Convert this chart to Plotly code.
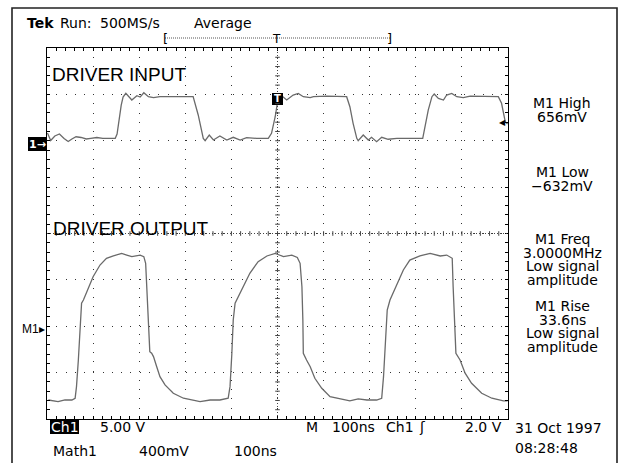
import plotly.graph_objects as go

# Channel 1 (DRIVER INPUT): time relative to trigger [ns], volts
ch1_t = [-499, -492, -483, -473, -463, -454, -446, -437, -426, -415, -405, -392, -379, -363, -352,
         -348, -344, -339, -335, -329, -316, -305, -298, -290, -280, -269, -255, -240, -227, -194,
         -183, -172, -161, -157, -148, -139, -125, -110, -96, -81, -67, -45, -20,
         -13, -5, 2, 5, 20, 34, 45, 56, 71, 78, 107, 143, 150,
         157, 164, 172, 175, 186, 197, 204, 215, 226, 240, 259, 287, 315,
         320, 327, 335, 340, 349, 360, 367, 378, 389, 403, 418, 454, 479,
         486, 491, 494, 499]
ch1_v = [1.19, 0.38, 0.86, 1.08, 0.59, 0.27, 0.54, 0.78, 0.70, 0.54, 0.61, 0.70, 0.61, 0.61, 0.61,
         1.08, 2.59, 4.20, 5.06, 5.46, 4.74, 5.20, 5.06, 5.53, 5.10, 4.99, 5.10, 5.10, 5.17, 5.17,
         5.10, 3.13, 0.61, 0.36, 0.97, 0.43, 0.86, 0.43, 0.72, 0.43, 0.68, 0.61, 0.61,
         1.15, 2.94, 5.10, 5.36, 4.74, 5.28, 5.46, 5.10, 4.99, 5.10, 5.17, 5.17, 5.10,
         4.02, 2.23, 0.61, 0.36, 0.97, 0.43, 0.72, 0.25, 0.72, 0.51, 0.61, 0.61, 0.61,
         1.86, 3.66, 5.10, 5.39, 4.92, 4.74, 5.28, 5.46, 5.10, 4.99, 5.17, 5.17, 5.10,
         4.39, 2.94, 2.40, 2.16]

# Math 1 (DRIVER OUTPUT): time [ns], millivolts
m1_t = [-497, -486, -476, -461, -446, -439, -436, -432, -428, -425, -421, -410, -400, -385, -371,
        -356, -338, -327, -316, -298, -290, -286, -282, -279, -277, -273, -269, -262, -255, -244,
        -226, -204, -183, -168, -146, -125, -107, -103, -99, -96, -92, -85, -74, -60, -42,
        -23, -5, 13, 31, 43, 49, 53, 55, 56, 63, 71, 81, 96, 114, 136,
        157, 175, 194, 215, 226, 230, 235, 238, 244, 259, 273, 287, 309, 331, 353,
        367, 379, 381, 384, 387, 396, 407, 421, 443, 465, 490, 499]
m1_mv = [-621, -629, -635, -621, -621, -606, -506, -276, -17, 213, 241, 342, 442, 543, 601,
         621, 644, 629, 615, 629, 615, 558, 213, -75, -204, -218, -247, -334, -420, -491,
         -563, -606, -621, -635, -621, -621, -606, -506, -218, 69, 213, 270, 371, 472, 572,
         621, 644, 615, 629, 609, 558, 356, 69, -218, -276, -334, -434, -520, -592, -612,
         -629, -612, -621, -621, -606, -420, -75, 155, 241, 371, 500, 586, 621, 644, 621,
         629, 601, 356, 11, -218, -276, -390, -477, -563, -606, -629, -629]

status_words = ["Run:", "500MS/s", "Average"]
readout_lines = ["M1 High", "656mV", "M1 Low", "\u2212632mV",
                 "M1 Freq", "3.0000MHz", "Low signal", "amplitude",
                 "M1 Rise", "33.6ns", "Low signal", "amplitude"]
bottom_row1 = ["5.00 V", "M", "100ns", "Ch1", "\u0283"]
bottom_row2 = ["Math1", "400mV", "100ns"]
date_lines = ["31 Oct 1997", "08:28:48"]

# ---------------- geometry ----------------
W, H = 618, 463
L, R, T, B = 47, 110, 48, 44
PW, PH = W - L - R, H - T - B


def px(x):
    return (x - L) / PW


def py(y):
    return (H - B - y) / PH


FONT = "DejaVu Sans"
ARIAL = "Liberation Sans"
TRACE = "#6a6a6a"

fig = go.Figure()
fig.add_trace(go.Scatter(x=ch1_t, y=ch1_v, mode="lines", yaxis="y2",
                         line=dict(color=TRACE, width=1.3), hoverinfo="skip", showlegend=False))
fig.add_trace(go.Scatter(x=m1_t, y=m1_mv, mode="lines", yaxis="y3",
                         line=dict(color=TRACE, width=1.3), hoverinfo="skip", showlegend=False))

common = dict(showticklabels=False, zeroline=False, showline=True, linecolor="black",
              linewidth=1, mirror="allticks", ticks="inside", ticklen=3, tickcolor="black",
              showgrid=True, gridcolor="#333333", gridwidth=1)

fig.update_layout(
    width=W, height=H, margin=dict(l=L, r=R, t=T, b=B),
    paper_bgcolor="white", plot_bgcolor="white", showlegend=False,
    xaxis=dict(range=[-500, 500], tick0=0, dtick=100, griddash="1px,8.22px",
               minor=dict(ticks="inside", dtick=20, ticklen=3, tickcolor="black", showgrid=False),
               **common),
    yaxis=dict(range=[-4, 4], tick0=0, dtick=1, griddash="1px,8.275px",
               minor=dict(ticks="inside", dtick=0.2, ticklen=3, tickcolor="black", showgrid=False),
               **common),
    yaxis2=dict(overlaying="y", range=[-29.65, 10.35], visible=False),
    yaxis3=dict(overlaying="y", range=[-785, 2415], visible=False),
)

shapes = [
    # centre lines
    dict(type="line", xref="x", yref="paper", x0=0, x1=0, y0=0, y1=1,
         line=dict(color="#444", width=1, dash="1px,2px")),
    dict(type="line", xref="paper", yref="y", x0=0, x1=1, y0=0, y1=0,
         line=dict(color="#444", width=1, dash="1px,2px")),
    # outer screen frame
    dict(type="rect", xref="paper", yref="paper", x0=px(12), x1=px(617), y0=py(480), y1=py(8),
         line=dict(color="#222", width=1.6)),
    # record view bar
    dict(type="line", xref="paper", yref="paper", x0=px(165), x1=px(391), y0=py(38), y1=py(38),
         line=dict(color="#555", width=1, dash="1px,1px")),
    # Ch1 ground marker box
    dict(type="rect", xref="paper", yref="paper", x0=px(28), x1=px(46), y0=py(151), y1=py(137),
         fillcolor="black", line=dict(width=0)),
    # trigger box on trace
    dict(type="rect", xref="paper", yref="paper", x0=px(272), x1=px(283), y0=py(105), y1=py(93),
         fillcolor="black", line=dict(width=0)),
    # Ch1 inverse box at bottom
    dict(type="rect", xref="paper", yref="paper", x0=px(50), x1=px(79), y0=py(434), y1=py(420),
         fillcolor="black", line=dict(width=0)),
]
# small cross ticks along the centre graticule lines (every 1/5 division)
for k in range(-24, 25):
    shapes.append(dict(type="line", xref="x", yref="y", x0=k * 20, x1=k * 20, y0=-0.05, y1=0.05,
                       line=dict(color="#444", width=1)))
for k in range(-19, 20):
    shapes.append(dict(type="line", xref="x", yref="y", x0=-5, x1=5, y0=k * 0.2, y1=k * 0.2,
                       line=dict(color="#444", width=1)))
fig.update_layout(shapes=shapes)


def ann(text, x, y, size=14, family=FONT, color="black", xanchor="left", yanchor="middle"):
    fig.add_annotation(text=text, xref="paper", yref="paper", x=px(x), y=py(y),
                       xanchor=xanchor, yanchor=yanchor, showarrow=False,
                       font=dict(family=family, size=size, color=color))


# top status line
ann("<b>Tek</b>", 25, 23)
for w, x in zip(status_words, [58, 98, 192]):
    ann(w, x, 23)
ann("[", 161, 39, size=13)
ann("]", 394, 39, size=13, xanchor="right")
ann("T", 276, 39, size=12, xanchor="center")

# labels
ann("DRIVER INPUT", 50, 74, size=19, family=ARIAL)
ann("DRIVER OUTPUT", 51, 229, size=19, family=ARIAL)

# markers
ann("<b>1\u2192</b>", 37, 144, size=11, color="white", xanchor="center")
ann("M1\u25B8", 47, 329, size=12, family=ARIAL, xanchor="right")
ann("\u25C0", 508, 123, size=8, xanchor="right")
ann("<b>T</b>", 277.5, 99, size=10, color="white", xanchor="center")

# right readouts
ys = [103, 117, 172, 186, 239, 253, 266, 280, 306, 320, 333, 347]
for t_, y in zip(readout_lines, ys):
    ann(t_, 562, y, size=14, xanchor="center")

# bottom readouts
ann("Ch1", 64.5, 427, color="white", xanchor="center")
for t_, x in zip(bottom_row1, [98, 304, 330, 384, 417]):
    ann(t_, x, 427)
ann("2.0 V", 504, 427, xanchor="right")
for t_, x in zip(bottom_row2, [51, 137, 232]):
    ann(t_, x, 451)
for t_, y in zip(date_lines, [428, 448]):
    ann(t_, 513, y)

fig.write_html("out.html", config={"displayModeBar": False},
               post_script="document.body.style.margin='0';document.body.style.padding='0';")
